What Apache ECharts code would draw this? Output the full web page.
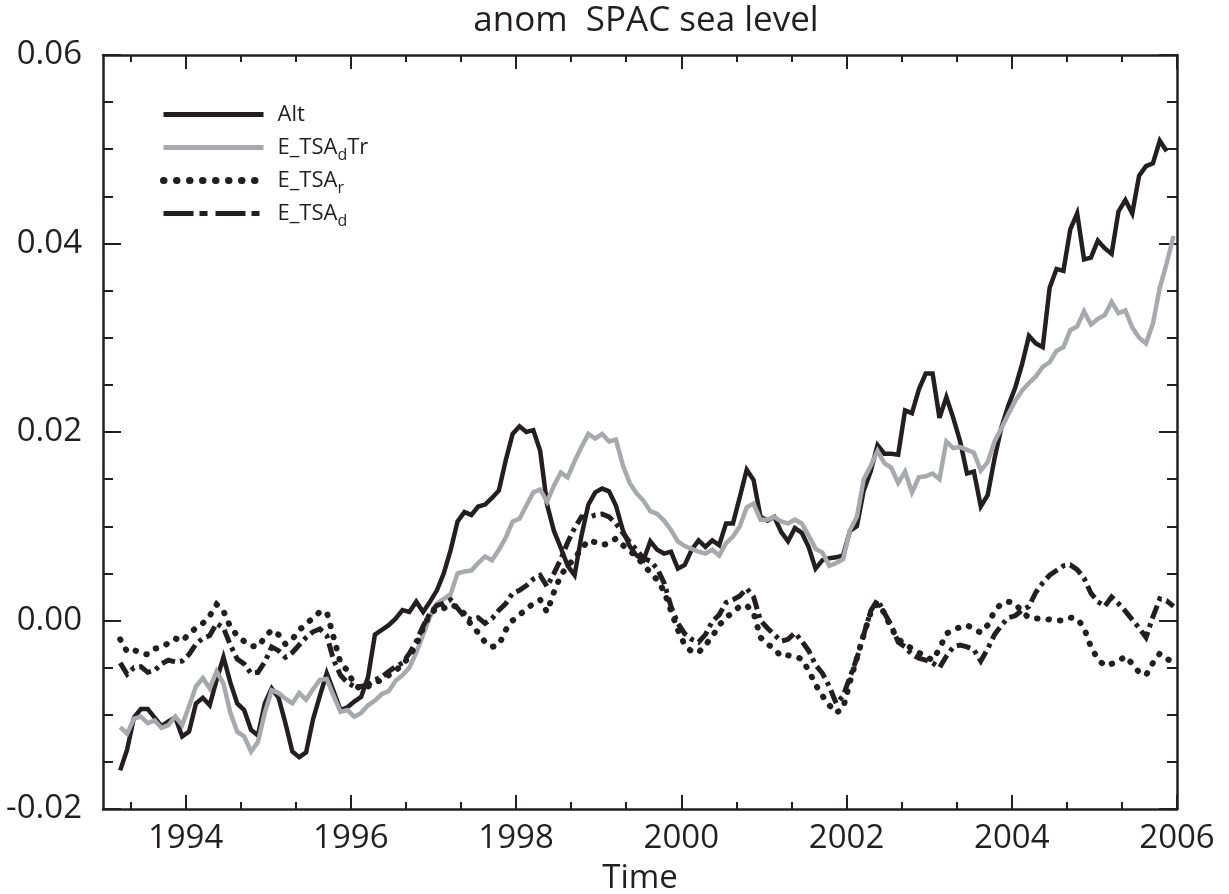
<!DOCTYPE html>
<html>
<head>
<meta charset="utf-8">
<title>anom SPAC sea level</title>
<script src="https://cdn.jsdelivr.net/npm/echarts@6/dist/echarts.min.js"></script>
<style>
  html, body { margin: 0; padding: 0; background: #ffffff; }
  #chart { width: 1229px; height: 894px; }
</style>
</head>
<body>
<div id="chart"></div>
<script>
// Monthly sea level anomalies over the South Pacific box, in millimetres.
// Each array holds consecutive monthly means, first value = March 1993.
const FIRST_YEAR = 1993;
const FIRST_MONTH = 2; // 0-based month of the first sample (March)

// Altimetry
const altMm = [
  -15.9, -13.7, -10.3, -9.4, -9.4, -10.3, -11.2, -10.7, -10.3, -12.3, -11.8, -8.8, -8.2,
  -9.0, -6.3, -3.9, -6.6, -8.8, -9.5, -11.6, -12.2, -8.8, -7.2, -8.2, -10.9, -13.9,
  -14.5, -14.0, -10.5, -8.0, -5.6, -7.5, -9.5, -9.2, -8.6, -8.1, -6.0, -1.5, -1.0,
  -0.5, 0.2, 1.1, 0.9, 2.0, 0.9, 2.0, 3.2, 5.0, 7.5,
  10.5, 11.5, 11.2, 12.1, 12.3, 13.0, 13.8, 17.0, 19.8, 20.6, 20.0, 20.2, 18.0, 12.3,
  9.5, 7.7, 5.8, 4.8, 9.0, 12.3, 13.6, 14.0, 13.7, 12.2, 9.6, 7.9, 6.9, 6.4,
  8.4, 7.5, 7.1, 7.3, 5.5, 5.9, 7.5, 8.5, 7.8, 8.5, 8.0, 10.3, 10.3, 13.1, 16.0, 14.9,
  11.0, 10.6, 11.0, 9.4, 8.4, 9.8, 9.3, 7.8, 5.5, 6.4,
  6.6, 6.7, 6.9, 9.5, 10.0, 13.8, 15.8, 18.6, 17.7, 17.7, 17.6, 22.3, 22.0, 24.5,
  26.2, 26.2, 21.5, 23.7, 21.5, 19.0, 15.6, 15.8, 12.1, 13.3, 17.2, 20.5,
  22.8, 24.7, 27.2, 30.2, 29.4, 29.0, 35.3, 37.3, 37.1, 41.5, 43.2, 38.3, 38.5, 40.3,
  39.5, 38.9, 43.4, 44.6, 43.2, 47.2, 48.2, 48.5, 50.9, 49.8
];

// Model: dynamic steric + trend
const tsaDTrMm = [
  -11.3, -12.0, -10.4, -10.2, -10.9, -10.6, -11.4, -11.1, -10.2, -11.1, -9.1, -7.0, -6.1,
  -7.2, -5.4, -6.7, -9.8, -11.8, -12.3, -13.9, -12.9, -9.8, -7.4, -7.7, -8.3, -8.8,
  -7.7, -8.4, -7.3, -6.3, -6.2, -8.0, -9.7, -9.5, -10.2, -9.8, -9.0, -8.5, -7.8,
  -7.5, -6.4, -5.8, -5.0, -3.4, -1.5, 0.4, 1.8, 2.3, 2.8, 5.0, 5.2,
  5.3, 6.1, 6.8, 6.4, 7.5, 8.8, 10.5, 10.8, 12.2, 13.6, 13.9, 12.6, 14.3,
  15.7, 15.2, 16.9, 18.4, 19.8, 19.3, 19.8, 19.0, 19.2, 16.5, 14.6, 13.5, 12.7,
  11.6, 11.3, 10.6, 9.6, 8.4, 7.9, 7.6, 7.3, 7.1, 7.5, 6.9, 8.2, 8.9,
  10.0, 12.0, 12.4, 10.7, 10.7, 11.0, 10.5, 10.3, 10.7, 10.3, 9.0, 7.6, 7.2,
  5.8, 6.1, 6.5, 9.6, 11.0, 15.0, 16.4, 18.0, 16.7, 16.2, 14.6, 15.8, 13.6,
  15.2, 15.3, 15.6, 15.0, 19.0, 18.3, 18.4, 18.1, 17.8, 15.9, 16.8, 19.0, 20.4,
  21.9, 23.3, 24.4, 25.2, 25.9, 26.9, 27.4, 28.6, 29.0, 30.8, 31.2, 32.8, 31.4,
  32.0, 32.4, 33.8, 32.6, 32.9, 31.1, 30.0, 29.4, 31.5, 35.3, 37.9, 40.8
];

// Model: remote forcing
const tsaRMm = [
  -2.0, -3.3, -3.1, -3.5, -3.6, -3.0, -2.8, -2.4, -1.9, -2.2, -1.4, -0.8, -0.3,
  0.5, 1.7, 1.0, -0.7, -1.6, -2.2, -2.7, -2.8, -1.8, -1.0, -1.5, -2.5, -2.0,
  -1.0, -0.4, 0.3, 0.9, 0.9, -1.8, -4.5, -5.3, -6.8,
  -7.3, -7.0, -6.6, -6.3, -5.8, -5.3, -4.7, -3.8, -2.6, -0.8, 0.7, 1.3, 1.3, 1.7, 1.4, 0.7,
  -0.5, -1.3, -2.3, -2.8, -2.6, -1.0, 0.0, 0.6, 1.2, 1.8, 2.2, 0.9, 3.0,
  4.8, 5.8, 6.6, 7.6, 8.5, 8.3, 8.0, 8.2, 8.7, 8.0, 7.4, 6.8, 5.9,
  5.1, 4.3, 3.1, 1.0, -1.0, -2.6, -3.3, -3.4, -2.6, -1.7, -0.5, 0.3, 0.9,
  1.5, 1.6, 0.8, -1.8, -2.5, -3.0, -3.8, -3.7, -3.8, -4.1, -5.3, -6.8, -8.0,
  -9.0, -9.8, -9.3, -6.5, -4.0, -1.5, 0.8, 1.8, 0.8, -0.8, -2.0, -2.5, -3.0,
  -3.4, -3.8, -4.2, -3.0, -1.4, -1.0, -0.7, -0.5, -0.9, -1.3, -0.5, 1.0, 1.8,
  2.0, 1.8, 0.9, 0.3, 0.2, 0.2, 0.1, 0.0, 0.0, 0.3, 0.2, -0.8, -2.8,
  -4.1, -4.8, -4.6, -4.3, -3.8, -4.6, -5.5, -5.8, -4.5, -3.5, -4.0, -4.6
];

// Model: dynamic steric
const tsaDMm = [
  -4.5, -5.7, -5.0, -4.9, -5.5, -5.3, -4.6, -4.2, -4.4, -4.3, -3.6, -2.5, -1.9,
  -1.6, -0.3, -0.8, -2.6, -4.1, -4.6, -5.6, -5.5, -4.4, -2.8, -3.2, -3.9, -3.4,
  -2.6, -1.8, -1.2, -0.9, -1.6, -4.2, -5.8, -6.6, -7.0,
  -7.0, -6.8, -6.3, -6.0, -5.4, -4.9, -4.5, -3.5, -2.2, -0.6, 0.8, 1.6, 1.8, 2.2, 1.3, 0.4,
  0.1, 0.3, -0.3, 0.2, 1.1, 1.8, 2.9, 3.2, 3.7, 4.4, 4.8, 3.6, 5.0,
  6.5, 8.3, 9.8, 11.0, 10.9, 11.2, 11.3, 11.0, 10.3, 9.3, 8.3, 7.5, 6.6,
  6.3, 5.5, 4.0, 1.5, -0.3, -1.4, -2.0, -2.3, -1.5, -0.1, 0.6, 1.9, 2.2,
  2.6, 3.4, 2.5, 0.0, -0.8, -1.5, -2.2, -2.0, -1.3, -2.2, -3.2, -4.7, -5.6,
  -7.0, -8.8, -8.0, -6.0, -4.0, -1.5, 1.0, 2.2, 0.8, -0.5, -2.3, -2.8, -3.6,
  -4.0, -4.2, -4.5, -5.0, -3.8, -2.8, -2.6, -2.8, -3.1, -4.3, -3.0, -1.5, -0.5,
  0.3, 0.5, 1.1, 1.5, 3.0, 4.0, 4.8, 5.3, 5.8, 5.9, 5.4, 4.5, 2.9,
  2.0, 1.5, 2.5, 1.8, 1.0, 0.1, -0.8, -1.8, 0.4, 2.3, 2.1, 1.5
];

// Axis ticks
const xMajorYears = [1994, 1996, 1998, 2000, 2002, 2004, 2006];
const xMinorYears = [1993.3333, 1994.6667, 1995.3333, 1996.6667, 1997.3333, 1998.6667,
                     1999.3333, 2000.6667, 2001.3333, 2002.6667, 2003.3333, 2004.6667, 2005.3333];
const X_MIN = 1993, X_MAX = 2006;
const Y_MIN = -0.02, Y_MAX = 0.06, Y_STEP = 0.02;

const INK = '#231f20';
const GREY = '#a7a9ac';
const FONT = '"Open Sans", "Noto Sans", sans-serif';

// mid-month decimal year for sample i, value converted mm -> m
function toPoints(arr) {
  return arr.map((mm, i) => [FIRST_YEAR + (FIRST_MONTH + i + 0.5) / 12, mm / 1000]);
}

const seriesDefs = [
  { name: 'Alt', values: altMm, color: INK, width: 4.5, type: 'solid', cap: 'butt',
    key: { width: 5, type: 'solid', cap: 'butt' } },
  { name: 'E_TSAdTr', values: tsaDTrMm, color: GREY, width: 4.5, type: 'solid', cap: 'butt',
    key: { width: 5, type: 'solid', cap: 'butt' } },
  { name: 'E_TSAr', values: tsaRMm, color: INK, width: 6, type: [0.5, 11], cap: 'round',
    key: { width: 7, type: [0.5, 12.5], cap: 'round' } },
  { name: 'E_TSAd', values: tsaDMm, color: INK, width: 5, type: [14, 5, 4, 5], cap: 'butt',
    key: { width: 5, type: [30, 6, 8, 8], cap: 'butt' } }
];

const legendText = {
  'Alt': 'Alt',
  'E_TSAdTr': 'E_TSA{sub|d}Tr',
  'E_TSAr': 'E_TSA{sub|r}',
  'E_TSAd': 'E_TSA{sub|d}'
};

const frameLine = { color: INK, width: 2.5 };
const tickLine = { color: INK, width: 2 };

function xAxisDef(position, ticks, len, withLine, withLabels) {
  return {
    type: 'value', position, min: X_MIN, max: X_MAX,
    axisLine: { show: withLine, onZero: false, lineStyle: frameLine },
    axisTick: { show: true, inside: true, length: len, customValues: ticks, lineStyle: tickLine },
    axisLabel: withLabels ? {
      show: true, customValues: xMajorYears, margin: 13,
      fontFamily: FONT, fontSize: 33, color: INK, formatter: v => String(Math.round(v))
    } : { show: false },
    splitLine: { show: false },
    name: withLabels ? 'Time' : '',
    nameLocation: 'middle', nameGap: 53,
    nameTextStyle: { fontFamily: FONT, fontSize: 33, color: INK }
  };
}

function yAxisDef(position, withLabels) {
  return {
    type: 'value', position, min: Y_MIN, max: Y_MAX, interval: Y_STEP,
    axisLine: { show: true, onZero: false, lineStyle: frameLine },
    axisTick: { show: true, inside: true, length: 18, lineStyle: tickLine },
    minorTick: { show: true, splitNumber: 4, length: 10, lineStyle: tickLine },
    axisLabel: withLabels ? {
      show: true, margin: 21, fontFamily: FONT, fontSize: 33, color: INK,
      formatter: v => v.toFixed(2)
    } : { show: false },
    splitLine: { show: false },
    minorSplitLine: { show: false }
  };
}

const chart = echarts.init(document.getElementById('chart'), null, { renderer: 'canvas' });

chart.setOption({
  animation: false,
  backgroundColor: '#ffffff',
  title: {
    text: 'anom  SPAC sea level',
    left: 641, top: -1, textAlign: 'center',
    textStyle: { fontFamily: FONT, fontSize: 35, fontWeight: 'normal', color: INK }
  },
  grid: { left: 103, right: 52, top: 55, bottom: 85, outerBoundsMode: 'none' },
  xAxis: [
    xAxisDef('bottom', xMajorYears, 14, true, true),
    xAxisDef('bottom', xMinorYears, 7, false, false),
    xAxisDef('top', xMajorYears, 14, true, false),
    xAxisDef('top', xMinorYears, 7, false, false)
  ],
  yAxis: [yAxisDef('left', true), yAxisDef('right', false)],
  legend: {
    orient: 'vertical', left: 155, top: 94,
    itemWidth: 100, itemHeight: 14, itemGap: 2,
    data: seriesDefs.map(s => ({
      name: s.name,
      itemStyle: { opacity: 0 },
      lineStyle: { color: s.color, width: s.key.width, type: s.key.type, cap: s.key.cap, opacity: 1 }
    })),
    formatter: name => legendText[name],
    textStyle: {
      fontFamily: FONT, fontSize: 22, color: INK, lineHeight: 31, padding: [0, 0, 0, 9],
      rich: { sub: { fontFamily: FONT, fontSize: 16, color: INK, lineHeight: 16, padding: [15, 0, 0, 0] } }
    }
  },
  series: seriesDefs.map(s => ({
    name: s.name, type: 'line', xAxisIndex: 0, yAxisIndex: 0,
    data: toPoints(s.values),
    showSymbol: false, symbol: 'none', smooth: false,
    lineStyle: { color: s.color, width: s.width, type: s.type, cap: s.cap, join: 'miter', miterLimit: 4 },
    itemStyle: { color: s.color },
    emphasis: { disabled: true }
  }))
});
</script>
</body>
</html>
